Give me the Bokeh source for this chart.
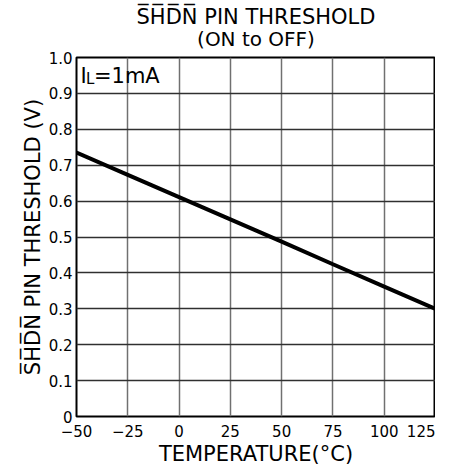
from bokeh.plotting import figure
from bokeh.models import Title, Label, FixedTicker
from bokeh.embed import file_html
from bokeh.resources import INLINE

temperature = [-50, -25, 0, 25, 50, 75, 100, 125]
threshold = [0.735, 0.673, 0.611, 0.549, 0.487, 0.424, 0.362, 0.300]
x_ticks = [-50, -25, 0, 25, 50, 75, 100, 125]
x_tick_labels = ["\u221250", "\u221225", "0", "25", "50", "75", "100", "125"]
y_ticks = [0, 0.1, 0.2, 0.3, 0.4, 0.5, 0.6, 0.7, 0.8, 0.9, 1.0]
y_tick_labels = ["0", "0.1", "0.2", "0.3", "0.4", "0.5", "0.6", "0.7", "0.8", "0.9", "1.0"]

OV = "\u0305"
shdn = "".join(c + OV for c in "SHDN")
FONT = "DejaVu Sans"

p = figure(frame_width=359, frame_height=359, output_backend="svg", toolbar_location=None,
           x_range=(-50, 125), y_range=(0, 1.0),
           min_border_left=0, min_border_right=0, min_border_top=0, min_border_bottom=0)

p.add_layout(Title(text="(ON to OFF)", align="center", text_font=FONT, text_font_size="20px",
                   text_font_style="normal", text_color="black", standoff=13,
                   text_line_height=1.0), "above")
p.add_layout(Title(text=shdn + " PIN THRESHOLD", align="center", text_font=FONT, text_font_size="21px",
                   text_font_style="normal", text_color="black", standoff=-20,
                   text_line_height=1.0), "above")
# thin outer spacers (top and left)
p.add_layout(Title(text=" ", text_font_size="9px", standoff=0, text_line_height=1.0), "above")
p.add_layout(Title(text=" ", text_font_size="13px", standoff=0, text_line_height=1.0), "left")

p.line(temperature, threshold, line_width=4, line_color="black")

p.xaxis.ticker = FixedTicker(ticks=x_ticks)
p.yaxis.ticker = FixedTicker(ticks=y_ticks)
p.xaxis.major_label_overrides = {t: l for t, l in zip(x_ticks, x_tick_labels)}
p.yaxis.major_label_overrides = {t: l for t, l in zip(y_ticks, y_tick_labels)}

for ax in (p.xaxis, p.yaxis):
    ax.axis_line_color = None
    ax.major_tick_line_color = None
    ax.minor_tick_line_color = None
    ax.major_tick_out = 0
    ax.major_tick_in = 0
    ax.minor_tick_out = 0
    ax.minor_tick_in = 0
    ax.major_label_text_font = FONT
    ax.major_label_text_font_size = "15px"
    ax.major_label_text_color = "black"
    ax.major_label_text_line_height = 1.0
    ax.axis_label_text_font = FONT
    ax.axis_label_text_font_size = "21px"
    ax.axis_label_text_font_style = "normal"
    ax.axis_label_text_color = "black"
    ax.axis_label_text_line_height = 1.0

p.xaxis.axis_label = "TEMPERATURE(\u00b0C)"
p.yaxis.axis_label = shdn + " PIN THRESHOLD (V)"
p.xaxis.major_label_standoff = 8
p.yaxis.major_label_standoff = 4
p.xaxis.axis_label_standoff = 2
p.yaxis.axis_label_standoff = 1

p.xgrid.grid_line_color = "#707070"
p.ygrid.grid_line_color = "#303030"
p.xgrid.grid_line_width = 1.5
p.ygrid.grid_line_width = 1.5
p.outline_line_color = "black"
p.outline_line_width = 2
p.background_fill_color = "white"

p.add_layout(Label(x=-48, y=0.915, text="I", text_font=FONT,
                   text_font_size="21px", text_color="black"))
p.add_layout(Label(x=-45.4, y=0.915, text="L", text_font=FONT,
                   text_font_size="15px", text_color="black"))
p.add_layout(Label(x=-41.5, y=0.915, text="=1mA", text_font=FONT,
                   text_font_size="21px", text_color="black"))

open("out.html", "w").write(file_html(p, INLINE))
